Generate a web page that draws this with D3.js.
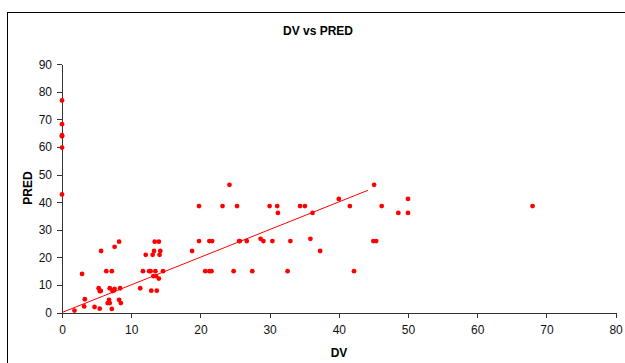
<!DOCTYPE html>
<html>
<head>
<meta charset="utf-8">
<script src="https://cdn.jsdelivr.net/npm/d3@7"></script>
<style>
  body { margin: 0; background: #fff; }
  svg { display: block; font-family: "Liberation Sans", Arial, sans-serif; }
  .axis path, .axis line { stroke: #333; shape-rendering: crispEdges; }
  .axis text { font-size: 12px; fill: #111; }
</style>
</head>
<body>
<svg id="canvas" width="625" height="363"></svg>
<script>
// observed values
let dvValues = [0, 0, 0, 0, 0, 0, 1.8, 2.9, 3.3, 3.2, 4.7, 5.45, 5.65, 5.3, 5.45, 5.6, 6.4, 7.2, 6.6, 6.8,
	6.9, 7.2, 6.9, 7.3, 7.5, 7.6, 7.6, 8.25, 8.4, 8.25, 8.5, 11.3, 11.7, 12.1, 12.6, 12.8, 12.9, 13.1, 13.3, 13.4,
	13.5, 13.2, 13.6, 13.7, 14.0, 14.2, 14.1, 14.0, 14.6, 18.8, 19.8, 19.8, 20.7, 21.3, 21.6, 21.3, 21.7, 23.2, 24.2, 24.8,
	25.3, 25.6, 25.7, 26.7, 27.5, 28.7, 29.1, 30.0, 30.4, 31.1, 31.2, 32.6, 33.0, 34.4, 35.1, 35.9, 36.2, 37.3, 40.0, 41.6,
	42.2, 45.1, 45.0, 45.4, 46.2, 48.6, 50.0, 50.0, 68.0];
let predValues = [76.9, 68.3, 64.3, 63.9, 59.8, 42.8, 0.7, 14, 4.8, 2.2, 2.0, 1.4, 22.3, 8.8, 7.8, 7.8, 15, 15, 3.4, 4.6,
	3.4, 1.3, 8.8, 7.8, 8.0, 8.6, 23.8, 25.7, 8.8, 4.6, 3.4, 8.8, 15, 20.9, 15, 15, 7.9, 20.9, 22.3, 25.7,
	15, 13.2, 13.2, 7.9, 25.7, 22.3, 20.9, 12.3, 15, 22.3, 38.6, 25.9, 15, 15, 15, 25.9, 25.9, 38.6, 46.3, 15,
	38.6, 25.9, 25.9, 25.9, 15, 26.7, 25.9, 38.6, 25.9, 38.6, 36.1, 15, 25.9, 38.6, 38.6, 26.7, 36.1, 22.3, 41.2, 38.6,
	15, 46.3, 25.9, 25.9, 38.6, 36.1, 41.2, 36.1, 38.6];

// fitted line
let fitDV = [0, 44.2];
let fitPred = [0, 44.3];

let xTicks = [0, 10, 20, 30, 40, 50, 60, 70, 80];
let yTicks = [0, 10, 20, 30, 40, 50, 60, 70, 80, 90];

let canvas = d3.select('#canvas');

// chart border
canvas.append('rect')
	.attr('x', 7.5).attr('y', 12.5)
	.attr('width', 650).attr('height', 400)
	.attr('fill', 'none').attr('stroke', '#000');

let xScale = d3.scaleLinear().domain([0, 80]).range([62, 615.6]);
let yScale = d3.scaleLinear().domain([0, 90]).range([312.5, 64.3]);

canvas.append('g')
	.attr('class', 'axis')
	.attr('transform', 'translate(0, 312.5)')
	.call(d3.axisBottom(xScale).tickValues(xTicks).tickSize(5).tickPadding(8).tickSizeOuter(0));

canvas.append('g')
	.attr('class', 'axis')
	.attr('transform', 'translate(62, 0)')
	.call(d3.axisLeft(yScale).tickValues(yTicks).tickSize(5).tickPadding(5).tickSizeOuter(0));

let line = d3.line()
	.x((d) => xScale(d[0]))
	.y((d) => yScale(d[1]));

canvas.append('path')
	.datum(fitDV.map((d, i) => [d, fitPred[i]]))
	.attr('d', line)
	.attr('fill', 'none')
	.attr('stroke', '#ff0000')
	.attr('stroke-width', 1);

canvas.selectAll('circle.pt')
	.data(dvValues.map((d, i) => [d, predValues[i]]))
	.enter()
	.append('circle')
	.attr('class', 'pt')
	.attr('cx', (d) => xScale(d[0]))
	.attr('cy', (d) => yScale(d[1]))
	.attr('r', 2.4)
	.attr('fill', '#ff0000');

canvas.append('text')
	.text('DV vs PRED')
	.attr('x', 318).attr('y', 35)
	.attr('text-anchor', 'middle')
	.attr('font-size', '12px').attr('font-weight', 'bold');

canvas.append('text')
	.text('DV')
	.attr('x', 339).attr('y', 357)
	.attr('text-anchor', 'middle')
	.attr('font-size', '12px').attr('font-weight', 'bold');

canvas.append('text')
	.text('PRED')
	.attr('transform', 'translate(32, 188) rotate(-90)')
	.attr('text-anchor', 'middle')
	.attr('font-size', '12px').attr('font-weight', 'bold');
</script>
</body>
</html>
